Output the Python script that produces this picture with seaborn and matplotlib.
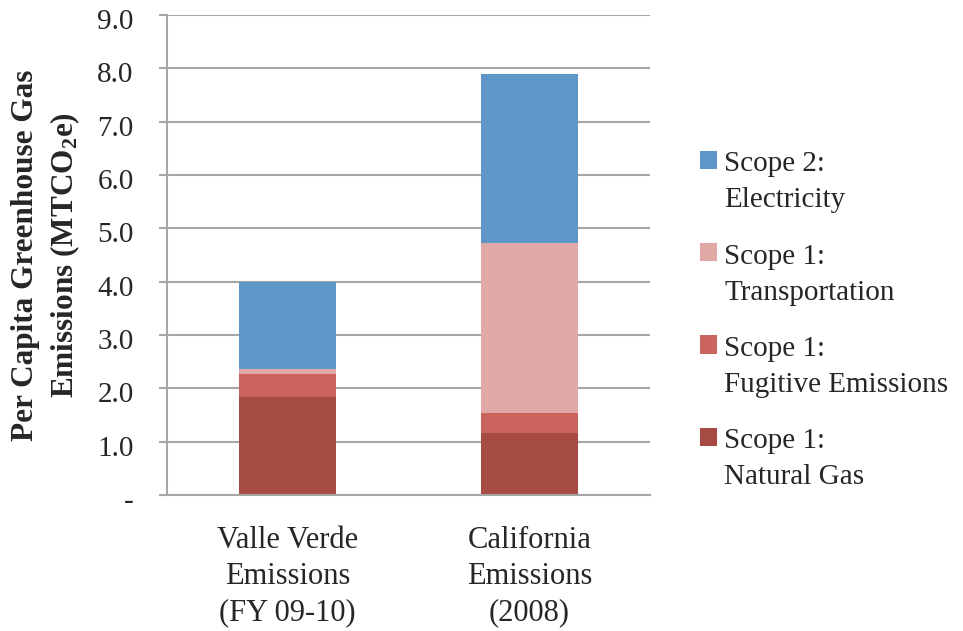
import matplotlib
matplotlib.use("Agg")
import matplotlib.pyplot as plt
import matplotlib.transforms as mtransforms
from matplotlib.patches import Patch, Rectangle
from matplotlib.legend_handler import HandlerPatch
import seaborn as sns
import pandas as pd
import numpy as np

categories = ["Valle Verde\nEmissions\n(FY 09-10)", "California\nEmissions\n(2008)"]
series_names = ["Scope 1:\nNatural Gas", "Scope 1:\nFugitive Emissions",
                "Scope 1:\nTransportation", "Scope 2:\nElectricity"]
natural_gas = [1.84, 1.17]
fugitive = [0.42, 0.37]
transportation = [0.11, 3.18]
electricity = [1.63, 3.17]
colors = ["#A64A44", "#CC645E", "#E0A8A6", "#5F96C8"]
yticks = [0, 1, 2, 3, 4, 5, 6, 7, 8, 9]
ytick_labels = ["-", "1.0", "2.0", "3.0", "4.0", "5.0", "6.0", "7.0", "8.0", "9.0"]

sns.set_style("white")
plt.rcParams["font.family"] = ["Liberation Serif", "DejaVu Serif"]
plt.rcParams["mathtext.fontset"] = "custom"
plt.rcParams["mathtext.rm"] = "Liberation Serif"
plt.rcParams["mathtext.bf"] = "Liberation Serif:bold"
plt.rcParams["mathtext.default"] = "bf"

fig = plt.figure(figsize=(9.63, 6.31), dpi=100)
ax = fig.add_axes([167/963, 1-495/631, (650-167)/963, (495-15)/631])

values = [natural_gas, fugitive, transportation, electricity]
bottom = np.zeros(len(categories))
for name, vals, col in zip(series_names, values, colors):
    df = pd.DataFrame({"cat": categories, "val": vals})
    sns.barplot(data=df, x="cat", y="val", color=col, bottom=bottom,
                width=0.4, ax=ax, saturation=1, edgecolor="none", linewidth=0)
    bottom = bottom + np.array(vals)

ax.set_ylim(0, 9)
ax.set_xlim(-0.5, 1.5)
ax.set_yticks(yticks)
ax.set_yticklabels(ytick_labels, fontsize=21)
ax.yaxis.grid(True, color="#A6A6A6", linewidth=1.5)
ax.set_axisbelow(True)
for s in ["top", "right"]:
    ax.spines[s].set_visible(False)
for s in ["left", "bottom"]:
    ax.spines[s].set_color("#A6A6A6")
    ax.spines[s].set_linewidth(1.5)
ax.tick_params(axis="y", which="major", length=6, width=1.5, color="#A6A6A6",
               direction="out", left=True, pad=18)
ax.set_xticks([0, 1])
ax.set_xticklabels(categories, fontsize=22, linespacing=1.33)
ax.tick_params(axis="x", which="major", length=0, pad=22)
ax.set_xticks([-0.5, 0.5, 1.5], minor=True)
ax.tick_params(axis="x", which="minor", length=6, width=1.5, color="#A6A6A6", direction="out")
ax.set_xlabel("")
ax.set_ylabel("Per Capita Greenhouse Gas\nEmissions (MTCO$_2$e)", fontsize=22.5,
              fontweight="bold", linespacing=1.36)
ax.yaxis.set_label_coords(-0.176, 0.5)

# nudge y tick labels slightly below their gridlines, as in the reference
offset = mtransforms.ScaledTranslation(0, -4/100, fig.dpi_scale_trans)
for tick in ax.yaxis.get_major_ticks():
    tick.label1.set_transform(tick.label1.get_transform() + offset)


def shifted_patch(legend, orig_handle, xdescent, ydescent, width, height, fontsize):
    return Rectangle((-xdescent, -ydescent + 0.76 * fontsize), width, height)


handles = [Patch(facecolor=c, edgecolor="none") for c in colors]
leg = fig.legend(handles[::-1], series_names[::-1], loc="upper left",
                 bbox_to_anchor=(674/963, 1-125/631), frameon=False,
                 fontsize=21, handlelength=0.58, handleheight=0.58,
                 handletextpad=0.24, labelspacing=1.04,
                 handler_map={Patch: HandlerPatch(patch_func=shifted_patch)})
for t in leg.get_texts():
    t.set_linespacing(1.5)

fig.savefig("out.png", dpi=100)
